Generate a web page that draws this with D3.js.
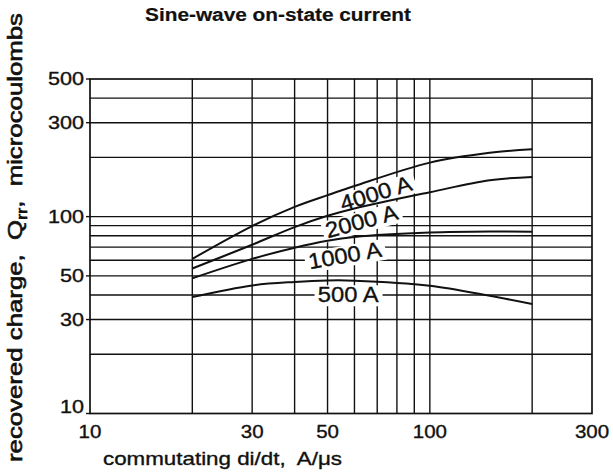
<!DOCTYPE html>
<html><head><meta charset="utf-8">
<script src="https://cdn.jsdelivr.net/npm/d3@7"></script>
<style>
body{margin:0;background:#fff}
svg{display:block}
text{font-family:"Liberation Sans",Arial,Helvetica,sans-serif;fill:#111;stroke:#111;stroke-width:0.35px;white-space:pre}
</style>
</head><body>
<svg id="c" width="613" height="473"></svg>
<script>
// ---- data ----
const xGrid = [20, 30, 40, 50, 60, 70, 80, 90, 100, 200];
const yGrid = [20, 30, 40, 50, 60, 70, 80, 90, 100, 200, 300, 400];
const xTickLabels = [10, 30, 50, 100, 300];
const yTickLabels = [10, 30, 50, 100, 300, 500];
const diDt  = [20, 30, 40, 50, 60, 100, 150, 200];
const q4000 = [61, 89.5, 112, 128.5, 143, 188, 211, 220];
const q2000 = [54.5, 72, 88.5, 101, 110, 133, 153, 159];
const q1000 = [48.6, 61, 69.5, 75.4, 78.8, 83, 84, 83.7];
const q500  = [39, 44.7, 46.6, 47.4, 47.3, 44.6, 39.6, 36];
const seriesNames = ["4000 A", "2000 A", "1000 A", "500 A"];
const titleText = "Sine-wave on-state current";
const xTitle = "commutating di/dt,  A/\u03bcs";

// ---- layout / style ----
const ink = "#111";
const svg = d3.select("#c");
const x = d3.scaleLog().domain([10, 300]).range([90, 592]);
const y = d3.scaleLog().domain([10, 500]).range([413.5, 79]);
// label anchors in data space, rotation in degrees
const labelPlace = [
  {x: 69.3, y: 131.8, rot: -17},
  {x: 62.9, y: 95.1, rot: -15},
  {x: 56.2, y: 63.8, rot: -10},
  {x: 57.5, y: 40.2, rot: 0}
];
const series = [q4000, q2000, q1000, q500].map((vals, i) => ({
  name: seriesNames[i], pts: diDt.map((d, j) => [d, vals[j]])
}));

// grid
const grid = svg.append("g").attr("stroke", ink).attr("stroke-width", 1.4);
grid.selectAll(".v").data(xGrid).join("line")
  .attr("x1", d => x(d)).attr("x2", d => x(d))
  .attr("y1", y(500)).attr("y2", y(10));
grid.selectAll(".h").data(yGrid).join("line")
  .attr("y1", d => y(d)).attr("y2", d => y(d))
  .attr("x1", x(10)).attr("x2", x(300));
svg.append("rect")
  .attr("x", x(10)).attr("y", y(500))
  .attr("width", x(300) - x(10)).attr("height", y(10) - y(500))
  .attr("fill", "none").attr("stroke", ink).attr("stroke-width", 1.7);
// small left ticks
svg.append("g").attr("stroke", ink).attr("stroke-width", 1.4)
  .selectAll("line").data(yTickLabels).join("line")
  .attr("x1", x(10) - 4).attr("x2", x(10))
  .attr("y1", d => y(d)).attr("y2", d => y(d));

// tick labels
svg.append("g").selectAll("text").data(yTickLabels).join("text")
  .attr("transform", d => `translate(84,${d === 10 ? y(d) - 6.5 : y(d)}) scale(1.2,1)`)
  .attr("dy", "0.35em").attr("text-anchor", "end")
  .style("font-size", "18px").text(d => d);
svg.append("g").selectAll("text").data(xTickLabels).join("text")
  .attr("transform", d => `translate(${x(d)},438) scale(1.14,1)`)
  .attr("text-anchor", "middle")
  .style("font-size", "18px").text(d => d);

// titles
svg.append("text").attr("x", 145).attr("y", 21)
  .attr("textLength", 266).attr("lengthAdjust", "spacingAndGlyphs")
  .style("font-size", "18px").style("font-weight", "bold").style("stroke-width", "0.2px").text(titleText);
svg.append("text").attr("x", 103).attr("y", 465)
  .attr("textLength", 239).attr("lengthAdjust", "spacingAndGlyphs")
  .style("font-size", "18.5px").text(xTitle);
const yt = svg.append("text").attr("transform", "translate(22,462) rotate(-90)")
  .attr("textLength", 449).attr("lengthAdjust", "spacingAndGlyphs")
  .style("font-size", "20px").style("stroke-width", "0.6px");
yt.append("tspan").text("recovered charge,  Q");
yt.append("tspan").attr("dy", 5).style("font-size", "14px").text("rr");
yt.append("tspan").attr("dy", -5).text(",  microcoulombs");

// label backgrounds
const lab = series.map((s, i) => ({name: s.name, ...labelPlace[i]}));
const bgG = svg.append("g");
const txG = svg.append("g");
lab.forEach(l => {
  const tr = `translate(${x(l.x)},${y(l.y)}) rotate(${l.rot}) scale(1.08,1)`;
  const t = txG.append("text").attr("transform", tr)
    .attr("text-anchor", "middle").attr("dy", "0.36em")
    .style("font-size", "22px").text(l.name);
  const bb = t.node().getBBox();
  bgG.append("rect").attr("transform", tr)
    .attr("x", bb.x - 3).attr("y", bb.y + 3)
    .attr("width", bb.width + 6).attr("height", bb.height - 4)
    .attr("fill", "#fff");
});

// curves (between backgrounds and label text)
const line = d3.line().x(d => x(d[0])).y(d => y(d[1])).curve(d3.curveCatmullRom.alpha(0.5));
svg.insert("g", function(){ return txG.node(); })
  .selectAll("path").data(series).join("path")
  .attr("d", d => line(d.pts))
  .attr("fill", "none").attr("stroke", ink).attr("stroke-width", 2);
</script>
</body></html>
